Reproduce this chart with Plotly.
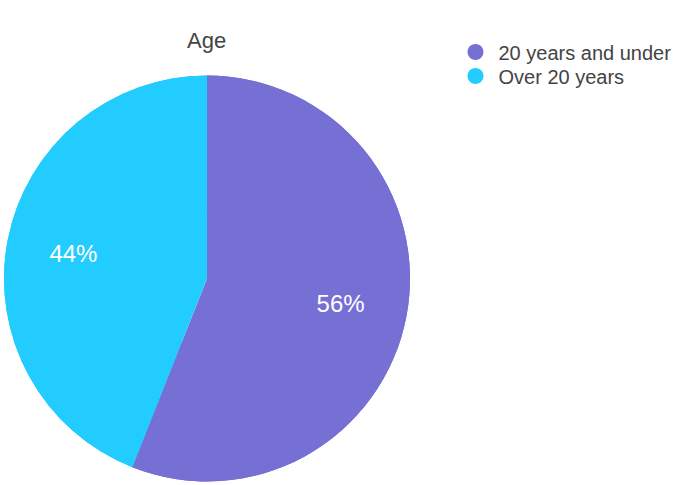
import plotly.graph_objects as go

labels = ["20 years and under", "Over 20 years"]
values = [56, 44]
colors = ["#7670d4", "#22ccff"]
title_text = "Age"

W, H = 675, 485
FONT = "Liberation Sans, Arial, sans-serif"
dom = dict(x=[4 / W, 410 / W], y=[3 / H, 410 / H])
fig = go.Figure()
# full base pie (no text)
fig.add_trace(go.Pie(
    labels=labels, values=values, sort=False, direction="clockwise", rotation=0,
    marker=dict(colors=colors, line=dict(width=0)),
    textinfo="none", showlegend=False, hoverinfo="skip", domain=dom,
))
# ring on top carries the labels at the ring's mid radius
fig.add_trace(go.Pie(
    labels=labels, values=values, sort=False, direction="clockwise", rotation=0, hole=0.34,
    marker=dict(colors=colors, line=dict(width=0)),
    textinfo="percent", texttemplate="%{percent:.0%}", textposition="inside",
    textfont=dict(color="white", size=24, family=FONT),
    insidetextorientation="horizontal",
    showlegend=False, hoverinfo="label+percent", domain=dom,
))
legend_rows_y = [52, 76]
leg_names = ["legend", "legend2"]
for lab, col, ln in zip(labels, colors, leg_names):
    fig.add_trace(go.Scatter(
        x=[None], y=[None], mode="markers", name=lab, legend=ln,
        marker=dict(symbol="circle", size=17, color=col),
    ))
leg_common = dict(xanchor="left", yanchor="middle", font=dict(size=20, color="#444"),
                  itemsizing="trace", itemwidth=36, bgcolor="rgba(0,0,0,0)")
fig.update_layout(
    width=W, height=H, margin=dict(l=0, r=0, t=0, b=0, autoexpand=False),
    paper_bgcolor="white", plot_bgcolor="white",
    font=dict(family=FONT, color="#444"),
    xaxis=dict(visible=False), yaxis=dict(visible=False),
    legend=dict(x=452.5 / W, y=1 - legend_rows_y[0] / H, **leg_common),
    legend2=dict(x=452.5 / W, y=1 - legend_rows_y[1] / H, **leg_common),
    annotations=[dict(text=title_text, x=207 / W, y=1 - 40 / H, xref="paper", yref="paper",
                      showarrow=False, font=dict(size=22, color="#444"),
                      xanchor="center", yanchor="middle")],
)
fig.write_html("out.html", config={"displayModeBar": False},
               post_script="document.body.style.margin='0';")
